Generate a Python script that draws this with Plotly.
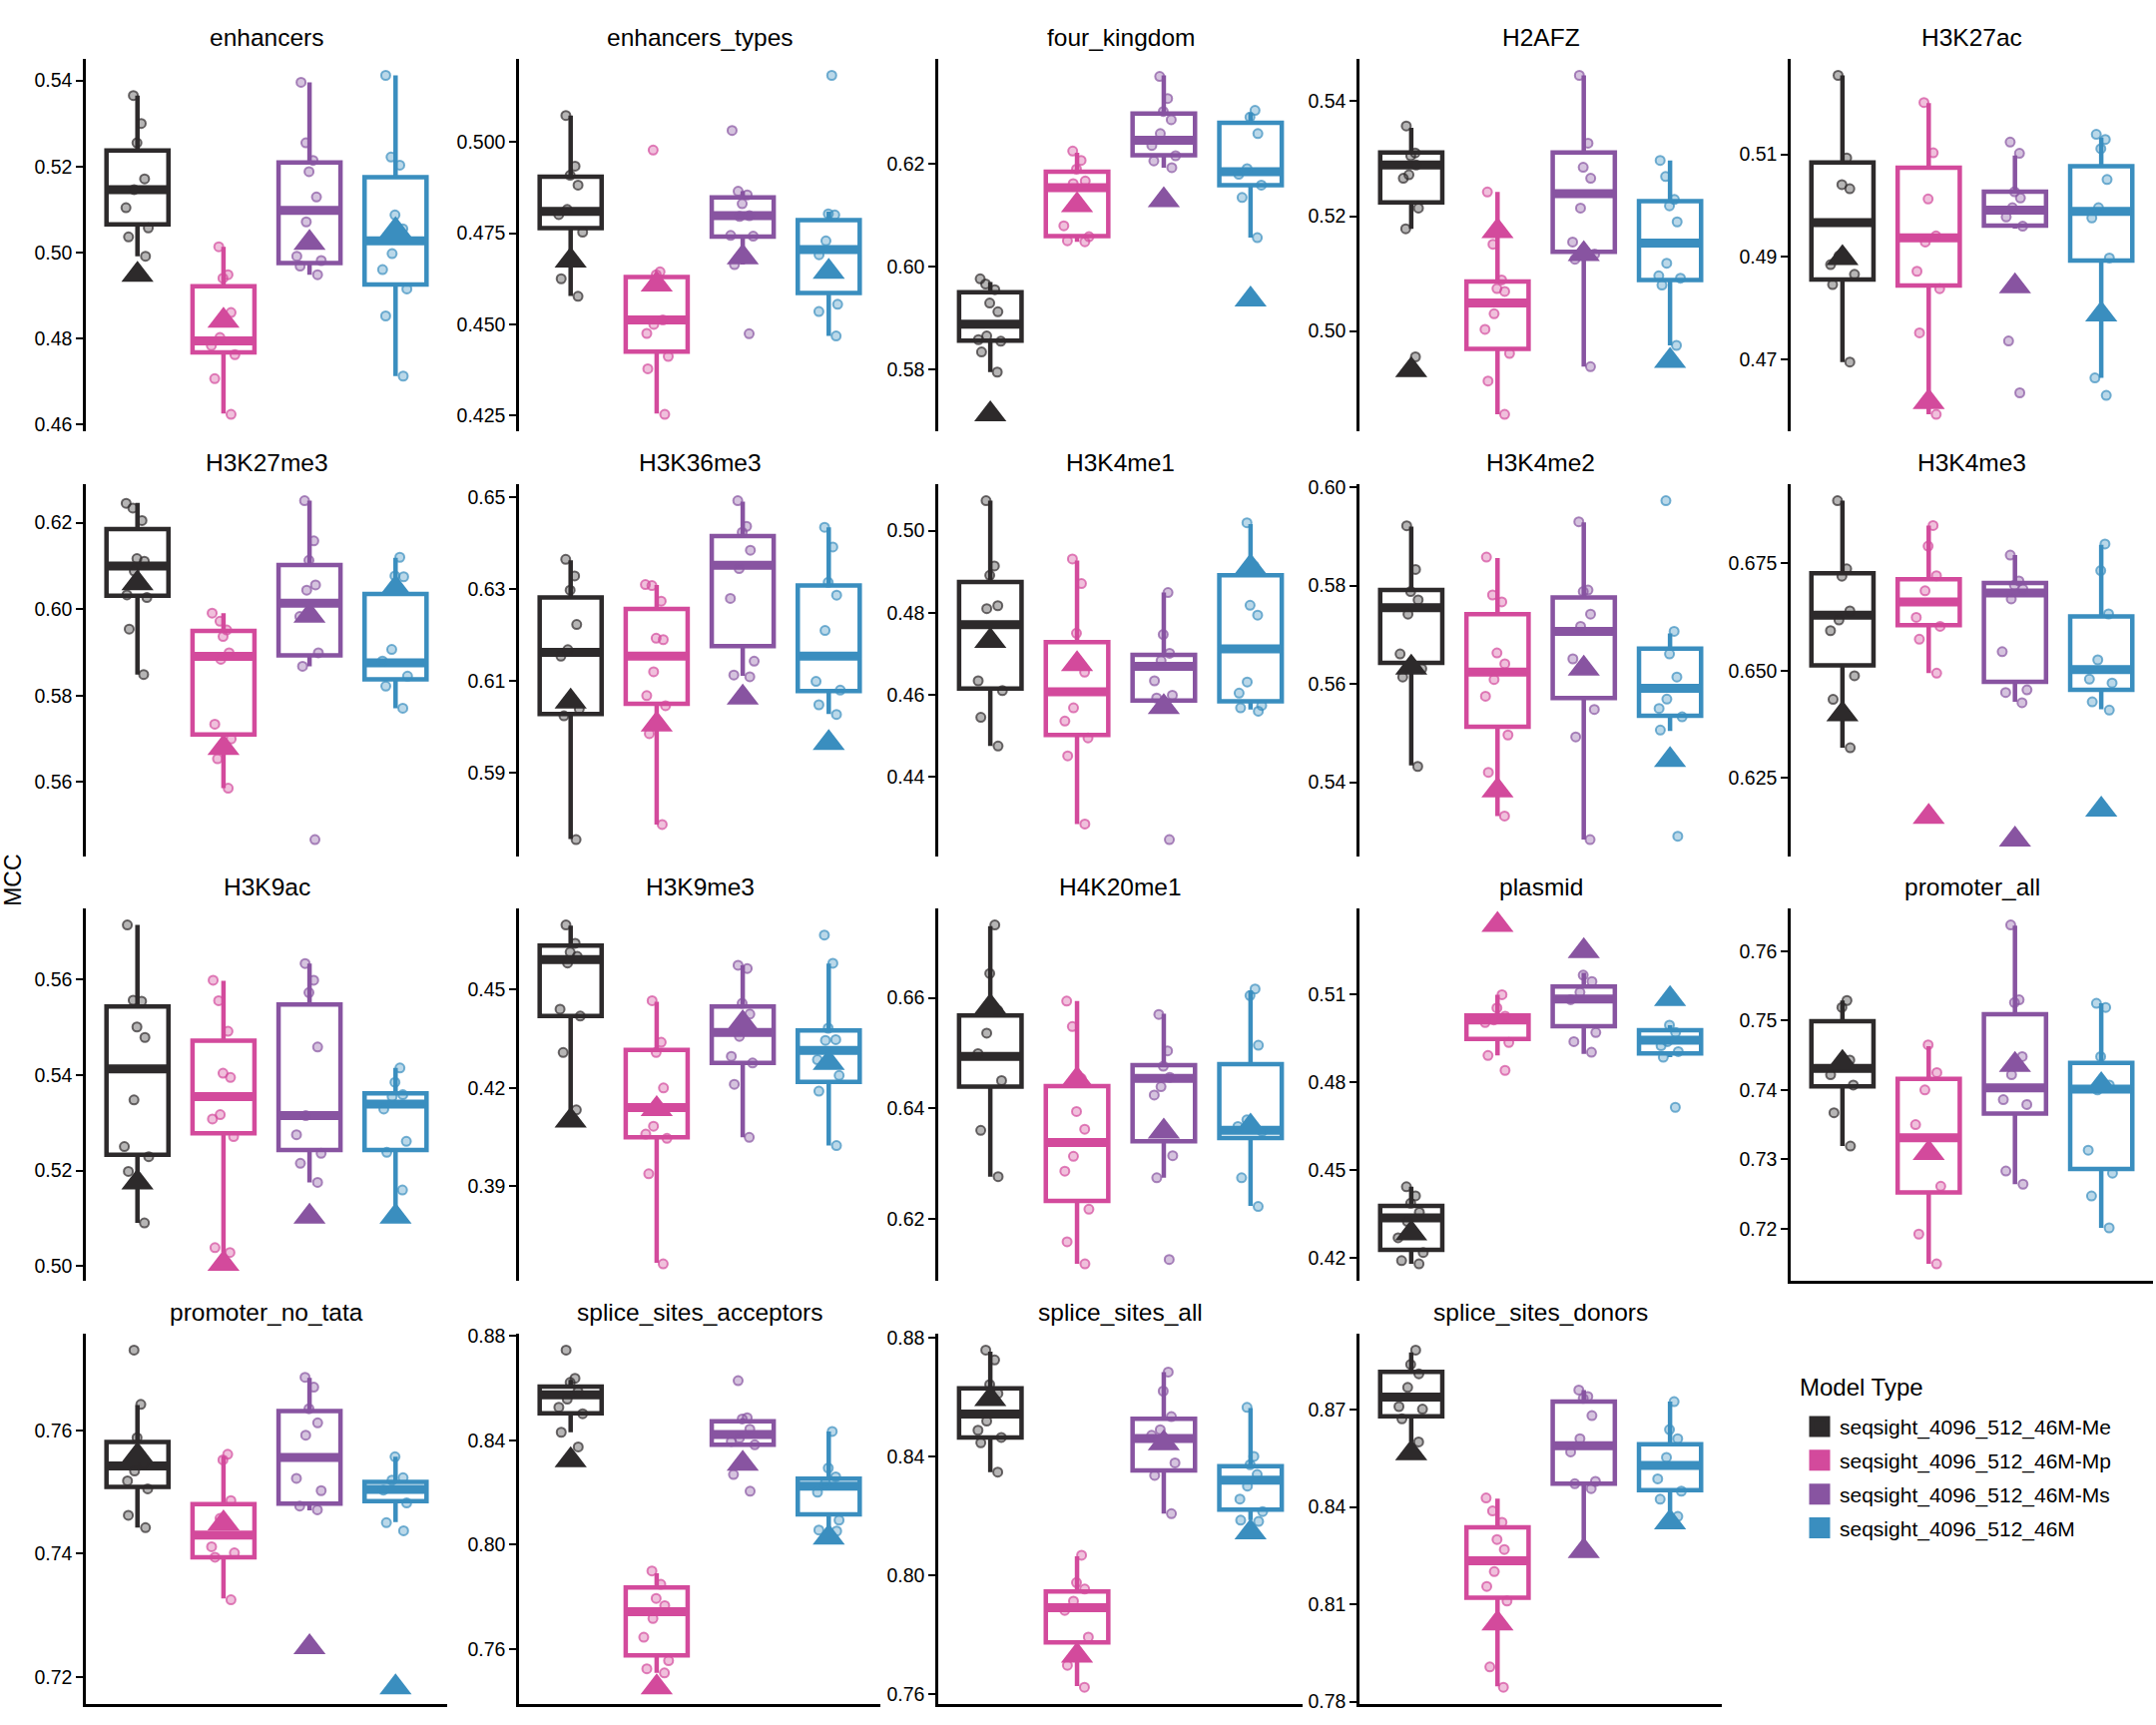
import plotly.graph_objects as go

PANELS = ["enhancers", "enhancers_types", "four_kingdom", "H2AFZ", "H3K27ac",
          "H3K27me3", "H3K36me3", "H3K4me1", "H3K4me2", "H3K4me3",
          "H3K9ac", "H3K9me3", "H4K20me1", "plasmid", "promoter_all",
          "promoter_no_tata", "splice_sites_acceptors", "splice_sites_all", "splice_sites_donors"]
MODELS = ["seqsight_4096_512_46M-Me", "seqsight_4096_512_46M-Mp",
          "seqsight_4096_512_46M-Ms", "seqsight_4096_512_46M"]
COLORS = ["#2D2A2B", "#D34A9C", "#8854A1", "#3A8EBF"]

# box statistics per panel, order [Me, Mp, Ms, M]
Q1 = [[0.5065, 0.4767, 0.4975, 0.4925], [0.4764, 0.4425, 0.4741, 0.4586], [0.5856, 0.6059, 0.6216, 0.6158],
      [0.5224, 0.4969, 0.5138, 0.5089], [0.4856, 0.4844, 0.4961, 0.4893], [0.6031, 0.571, 0.5893, 0.5838],
      [0.6028, 0.605, 0.6176, 0.6078], [0.4615, 0.4502, 0.4586, 0.4584], [0.5643, 0.5513, 0.5571, 0.5535],
      [0.6512, 0.6606, 0.6474, 0.6455], [0.5233, 0.5278, 0.5243, 0.5243], [0.4419, 0.4049, 0.4276, 0.4218],
      [0.6439, 0.6232, 0.634, 0.6346], [0.4228, 0.4947, 0.4991, 0.4898], [0.7405, 0.7252, 0.7366, 0.7286],
      [0.7508, 0.7394, 0.7481, 0.7485], [0.8504, 0.7575, 0.8383, 0.8116], [0.8465, 0.7774, 0.8354, 0.8222],
      [0.868, 0.812, 0.8472, 0.8452]]
MEDIAN = [[0.5146, 0.4794, 0.5098, 0.5027], [0.481, 0.4512, 0.4798, 0.4705], [0.5888, 0.6153, 0.6245, 0.6184],
          [0.5289, 0.5049, 0.5239, 0.5153], [0.4967, 0.4937, 0.4991, 0.4989], [0.61, 0.5891, 0.6014, 0.5876],
          [0.6162, 0.6154, 0.6352, 0.6154], [0.4771, 0.4607, 0.4669, 0.4712], [0.5755, 0.5624, 0.5707, 0.5591],
          [0.6629, 0.666, 0.6681, 0.6502], [0.5413, 0.5355, 0.5315, 0.5339], [0.4591, 0.414, 0.4369, 0.4314],
          [0.6494, 0.6338, 0.6454, 0.636], [0.4337, 0.5012, 0.5083, 0.4943], [0.7431, 0.7331, 0.7403, 0.7401],
          [0.7542, 0.743, 0.7556, 0.7504], [0.8575, 0.7743, 0.8422, 0.8224], [0.8544, 0.7891, 0.8461, 0.8321],
          [0.8739, 0.8234, 0.8589, 0.8528]]
Q3 = [[0.5237, 0.4921, 0.5209, 0.5175], [0.4905, 0.463, 0.4848, 0.4786], [0.595, 0.6184, 0.6297, 0.6279],
      [0.5311, 0.5086, 0.5311, 0.5226], [0.5084, 0.5074, 0.5027, 0.5077], [0.6185, 0.595, 0.6102, 0.6035],
      [0.6282, 0.6257, 0.6416, 0.6308], [0.4875, 0.4728, 0.4697, 0.4891], [0.5791, 0.5742, 0.5776, 0.5672],
      [0.6727, 0.6713, 0.6704, 0.6626], [0.5544, 0.5472, 0.5548, 0.5362], [0.4634, 0.4316, 0.4448, 0.4375],
      [0.6568, 0.644, 0.6478, 0.648], [0.4378, 0.5027, 0.5126, 0.4977], [0.7499, 0.7416, 0.7509, 0.7439],
      [0.7581, 0.748, 0.7631, 0.7516], [0.8606, 0.7836, 0.8473, 0.8253], [0.863, 0.7946, 0.8528, 0.8368],
      [0.8817, 0.8337, 0.8725, 0.8594]]
LOWER = [[0.4991, 0.4625, 0.4948, 0.4712], [0.4578, 0.4255, 0.4664, 0.4468], [0.5795, 0.6048, 0.6192, 0.6056],
         [0.5178, 0.4855, 0.4938, 0.4975], [0.4695, 0.4593, 0.4955, 0.4664], [0.5849, 0.5586, 0.5868, 0.5771],
         [0.5755, 0.5787, 0.6111, 0.6028], [0.4475, 0.4285, 0.4586, 0.4564], [0.5434, 0.5331, 0.5283, 0.5504],
         [0.632, 0.6494, 0.6427, 0.641], [0.509, 0.5028, 0.5175, 0.5105], [0.4133, 0.3666, 0.4049, 0.4024],
         [0.6276, 0.6118, 0.6274, 0.6223], [0.418, 0.4891, 0.4896, 0.4885], [0.7319, 0.7149, 0.7264, 0.7201],
         [0.7442, 0.7327, 0.747, 0.7451], [0.8431, 0.7508, 0.8383, 0.8059], [0.8348, 0.7627, 0.8208, 0.8186],
         [0.8601, 0.7847, 0.826, 0.8371]]
UPPER = [[0.5365, 0.5013, 0.5396, 0.5412], [0.5073, 0.4641, 0.4865, 0.4809], [0.597, 0.6221, 0.6371, 0.6299],
         [0.5354, 0.5242, 0.5445, 0.5297], [0.5254, 0.52, 0.5098, 0.5133], [0.6246, 0.5991, 0.6251, 0.6119],
         [0.6363, 0.6309, 0.6491, 0.6435], [0.5073, 0.4927, 0.4849, 0.5016], [0.592, 0.5856, 0.5929, 0.5703],
         [0.6896, 0.6838, 0.6769, 0.6793], [0.5715, 0.5598, 0.5634, 0.5415], [0.4695, 0.4463, 0.4574, 0.4579],
         [0.673, 0.6594, 0.6571, 0.6613], [0.4443, 0.5098, 0.5173, 0.4994], [0.7529, 0.7463, 0.7637, 0.7525],
         [0.7641, 0.7558, 0.7685, 0.7557], [0.8632, 0.789, 0.8485, 0.8434], [0.8754, 0.8064, 0.8685, 0.8564],
         [0.8877, 0.8426, 0.8761, 0.8725]]
# triangle marker value per panel
TRIANGLE = [[0.4948, 0.4841, 0.5022, 0.5052], [0.4675, 0.4609, 0.4684, 0.4644], [0.5713, 0.6119, 0.6129, 0.5936],
            [0.4932, 0.5174, 0.5134, 0.4948], [0.4898, 0.4617, 0.4843, 0.4788], [0.606, 0.5679, 0.5985, 0.6048],
            [0.6055, 0.6005, 0.6064, 0.5965], [0.4731, 0.4675, 0.457, 0.4911], [0.5633, 0.5383, 0.5631, 0.5445],
            [0.6398, 0.6159, 0.6106, 0.6176], [0.5175, 0.5004, 0.5103, 0.5103], [0.41, 0.4135, 0.4397, 0.4276],
            [0.6584, 0.6452, 0.6358, 0.6367], [0.4284, 0.5336, 0.5247, 0.5083], [0.7439, 0.7309, 0.7436, 0.7407],
            [0.7559, 0.7449, 0.7248, 0.7183], [0.8324, 0.7453, 0.831, 0.8027], [0.8594, 0.773, 0.8445, 0.8145],
            [0.8566, 0.8041, 0.8264, 0.8353]]
# individual runs per panel, [Me, Mp, Ms, M]
POINTS = [
    [[0.5365, 0.530, 0.5255, 0.5171, 0.5146, 0.5104, 0.5057, 0.5036, 0.4991],
     [0.5013, 0.4948, 0.4940, 0.486, 0.4802, 0.4783, 0.4762, 0.4706, 0.4623],
     [0.5396, 0.5255, 0.5214, 0.5188, 0.5129, 0.5071, 0.4991, 0.4981, 0.4968, 0.4948],
     [0.5412, 0.5222, 0.5203, 0.5087, 0.5055, 0.4997, 0.4960, 0.4915, 0.4852, 0.4712]],
    [[0.5073, 0.4934, 0.4909, 0.4882, 0.4815, 0.4801, 0.4753, 0.4625, 0.4577],
     [0.4978, 0.4644, 0.4636, 0.4512, 0.45, 0.4475, 0.4412, 0.4378, 0.4253],
     [0.5032, 0.4865, 0.4855, 0.4831, 0.4798, 0.4796, 0.4744, 0.4742, 0.4664, 0.4474],
     [0.5183, 0.4803, 0.480, 0.4729, 0.4691, 0.4555, 0.4535, 0.4468]],
    [[0.5976, 0.5966, 0.5955, 0.5929, 0.5912, 0.5865, 0.5858, 0.5855, 0.5834, 0.5795],
     [0.6224, 0.6206, 0.6189, 0.6166, 0.6161, 0.6079, 0.6058, 0.6050, 0.6048],
     [0.6369, 0.6326, 0.6301, 0.6285, 0.6258, 0.6235, 0.6215, 0.6205, 0.6192],
     [0.6303, 0.6290, 0.6258, 0.6190, 0.6179, 0.6158, 0.6134, 0.6056]],
    [[0.5357, 0.5310, 0.5305, 0.5289, 0.5272, 0.5266, 0.5214, 0.5178, 0.4955],
     [0.5242, 0.5151, 0.5089, 0.5074, 0.5069, 0.503, 0.5003, 0.4961, 0.4913, 0.4855],
     [0.5445, 0.5327, 0.5285, 0.5266, 0.5214, 0.5155, 0.5134, 0.5125, 0.4938],
     [0.5297, 0.5269, 0.5229, 0.5218, 0.5190, 0.5118, 0.5096, 0.5092, 0.508, 0.4975]],
    [[0.5254, 0.5093, 0.5041, 0.5033, 0.4902, 0.4885, 0.4866, 0.4846, 0.4695],
     [0.5201, 0.5103, 0.5013, 0.4941, 0.4929, 0.4872, 0.4838, 0.4752, 0.4593],
     [0.5124, 0.5102, 0.5027, 0.5015, 0.4996, 0.4978, 0.4960, 0.4736, 0.4635],
     [0.5139, 0.5129, 0.5111, 0.5051, 0.4996, 0.4976, 0.4898, 0.4664, 0.463]],
    [[0.6245, 0.6234, 0.6205, 0.6117, 0.6111, 0.6088, 0.6033, 0.6027, 0.5954, 0.5849],
     [0.5991, 0.5972, 0.5952, 0.5937, 0.5899, 0.5884, 0.5734, 0.57, 0.5654, 0.5586],
     [0.6251, 0.6158, 0.6113, 0.6056, 0.6044, 0.5983, 0.5899, 0.5868, 0.5467],
     [0.6120, 0.6077, 0.6075, 0.5907, 0.588, 0.5845, 0.5822, 0.5771]],
    [[0.6365, 0.6329, 0.6298, 0.6223, 0.6168, 0.6154, 0.6039, 0.6024, 0.5754],
     [0.6310, 0.6308, 0.6274, 0.619, 0.6193, 0.612, 0.6068, 0.6046, 0.5985, 0.5787],
     [0.6493, 0.6437, 0.6424, 0.6385, 0.6345, 0.628, 0.6143, 0.6113, 0.6109],
     [0.6435, 0.6392, 0.6315, 0.6287, 0.621, 0.6099, 0.608, 0.6048, 0.6027]],
    [[0.5073, 0.4914, 0.4891, 0.4817, 0.4810, 0.4634, 0.461, 0.4545, 0.4475],
     [0.4931, 0.4871, 0.475, 0.4655, 0.4568, 0.4536, 0.4495, 0.4451, 0.4285],
     [0.4849, 0.4747, 0.4701, 0.4683, 0.4634, 0.4599, 0.4592, 0.4247],
     [0.5019, 0.4914, 0.4818, 0.4794, 0.4631, 0.4604, 0.4574, 0.4568, 0.456]],
    [[0.5922, 0.5833, 0.5788, 0.5771, 0.5742, 0.5661, 0.5631, 0.5614, 0.5432],
     [0.5858, 0.5781, 0.5767, 0.5663, 0.5641, 0.5609, 0.5575, 0.5496, 0.542, 0.5331],
     [0.593, 0.5791, 0.5788, 0.5742, 0.5717, 0.5651, 0.5548, 0.5492, 0.5283],
     [0.5973, 0.5707, 0.5661, 0.5614, 0.5569, 0.555, 0.5533, 0.5506, 0.529]],
    [[0.6896, 0.6737, 0.672, 0.6639, 0.6618, 0.6593, 0.6488, 0.6433, 0.632],
     [0.6838, 0.679, 0.6721, 0.6686, 0.6624, 0.6603, 0.6573, 0.6494],
     [0.6769, 0.6709, 0.6699, 0.669, 0.6667, 0.6544, 0.6455, 0.6449, 0.6425],
     [0.6795, 0.6733, 0.6632, 0.6525, 0.648, 0.6471, 0.6427, 0.6408]],
    [[0.5715, 0.5557, 0.5555, 0.5501, 0.5479, 0.5348, 0.525, 0.5229, 0.5198, 0.509],
     [0.5599, 0.5556, 0.5492, 0.5404, 0.5395, 0.5317, 0.5308, 0.5271, 0.5038, 0.5028],
     [0.5634, 0.5599, 0.5573, 0.5459, 0.5315, 0.5275, 0.5236, 0.5215, 0.5175],
     [0.5415, 0.5385, 0.5359, 0.5355, 0.5329, 0.5261, 0.5238, 0.5159]],
    [[0.4697, 0.4641, 0.4614, 0.4601, 0.4581, 0.444, 0.4419, 0.4308, 0.4133],
     [0.4466, 0.4339, 0.4308, 0.42, 0.4083, 0.4059, 0.4046, 0.3938, 0.3663],
     [0.4574, 0.4564, 0.4458, 0.4425, 0.4357, 0.4296, 0.4276, 0.4211, 0.4049],
     [0.4666, 0.458, 0.4382, 0.4347, 0.4345, 0.4286, 0.4238, 0.4190, 0.4024]],
    [[0.6732, 0.6644, 0.6577, 0.6536, 0.6499, 0.645, 0.636, 0.6276],
     [0.6594, 0.6548, 0.6454, 0.6394, 0.6362, 0.6313, 0.6286, 0.6217, 0.6158, 0.6118],
     [0.657, 0.6504, 0.6476, 0.6456, 0.6439, 0.6424, 0.6314, 0.6274, 0.6126],
     [0.6616, 0.6604, 0.6514, 0.6379, 0.6367, 0.6358, 0.6274, 0.6222]],
    [[0.4443, 0.4412, 0.4387, 0.4356, 0.4325, 0.4269, 0.4219, 0.4191, 0.418],
     [0.5098, 0.5053, 0.5025, 0.5012, 0.5003, 0.4935, 0.4891, 0.484],
     [0.5165, 0.5143, 0.5106, 0.5081, 0.4969, 0.4938, 0.4902],
     [0.4994, 0.4969, 0.4938, 0.4924, 0.4904, 0.4885, 0.4714]],
    [[0.7529, 0.7519, 0.7443, 0.7436, 0.7422, 0.7407, 0.7367, 0.7319],
     [0.7465, 0.7425, 0.74, 0.735, 0.7261, 0.7192, 0.7149],
     [0.7638, 0.753, 0.7526, 0.7448, 0.7422, 0.7386, 0.7379, 0.7283, 0.7264],
     [0.7525, 0.7519, 0.7448, 0.7407, 0.74, 0.7313, 0.728, 0.7247, 0.7201]],
    [[0.773, 0.7642, 0.7588, 0.7546, 0.7534, 0.7518, 0.7505, 0.7462, 0.7442],
     [0.7561, 0.7552, 0.7486, 0.7457, 0.7411, 0.7401, 0.7394, 0.7325],
     [0.7686, 0.767, 0.7635, 0.7612, 0.7592, 0.7522, 0.7502, 0.7477, 0.7471],
     [0.7557, 0.7523, 0.7519, 0.7503, 0.7482, 0.745, 0.7437]],
    [[0.8746, 0.8638, 0.8622, 0.8587, 0.8558, 0.8527, 0.8502, 0.8431, 0.8375],
     [0.7899, 0.7848, 0.7794, 0.7766, 0.7717, 0.7645, 0.7555, 0.7524, 0.7508],
     [0.8629, 0.8482, 0.8487, 0.8443, 0.8409, 0.8396, 0.8383, 0.8269, 0.8205],
     [0.8434, 0.8294, 0.826, 0.8237, 0.8201, 0.8094, 0.8056, 0.8052]],
    [[0.8759, 0.8726, 0.8643, 0.8613, 0.852, 0.8489, 0.8465, 0.8447, 0.8348],
     [0.8068, 0.7976, 0.7954, 0.7913, 0.7882, 0.7792, 0.7697, 0.7623],
     [0.8685, 0.8621, 0.8535, 0.8491, 0.8472, 0.8379, 0.8337, 0.8208],
     [0.8566, 0.8401, 0.8373, 0.834, 0.8301, 0.8257, 0.8215, 0.8186, 0.8182]],
    [[0.8884, 0.884, 0.8811, 0.8769, 0.871, 0.8702, 0.8672, 0.8601],
     [0.8428, 0.8388, 0.8353, 0.83, 0.8269, 0.8201, 0.8155, 0.811, 0.7907, 0.7844],
     [0.8761, 0.8741, 0.8735, 0.8682, 0.8611, 0.857, 0.8479, 0.8472, 0.8457],
     [0.8725, 0.8639, 0.8611, 0.8553, 0.8487, 0.8449, 0.8424, 0.8371]],
]
TICK_LABELS = [
    ["0.46", "0.48", "0.50", "0.52", "0.54"], ["0.425", "0.450", "0.475", "0.500"], ["0.58", "0.60", "0.62"],
    ["0.50", "0.52", "0.54"], ["0.47", "0.49", "0.51"], ["0.56", "0.58", "0.60", "0.62"],
    ["0.59", "0.61", "0.63", "0.65"], ["0.44", "0.46", "0.48", "0.50"], ["0.54", "0.56", "0.58", "0.60"],
    ["0.625", "0.650", "0.675"], ["0.50", "0.52", "0.54", "0.56"], ["0.39", "0.42", "0.45"],
    ["0.62", "0.64", "0.66"], ["0.42", "0.45", "0.48", "0.51"], ["0.72", "0.73", "0.74", "0.75", "0.76"],
    ["0.72", "0.74", "0.76"], ["0.76", "0.80", "0.84", "0.88"], ["0.76", "0.80", "0.84", "0.88"],
    ["0.78", "0.81", "0.84", "0.87"],
]

W, H = 2160, 1728
COL_X = [(86, 448), (520, 882), (940, 1305), (1362, 1725), (1794, 2157)]
ROW_Y = [(51, 428), (481, 858), (910, 1287), (1340, 1715)]
BOX_W = 0.72
FONT = "Liberation Sans, Arial, sans-serif"


def rgba(hexc, a):
    h = hexc.lstrip("#")
    return "rgba(%d,%d,%d,%s)" % (int(h[0:2], 16), int(h[2:4], 16), int(h[4:6], 16), a)


fig = go.Figure()
layout = {}
annotations = []
n_panels = len(PANELS)
bottom_panels = set(range(n_panels - 4, n_panels)) | {14}

for k, name in enumerate(PANELS):
    r, c = divmod(k, 5)
    sfx = "" if k == 0 else str(k + 1)
    xa, ya = "x" + sfx, "y" + sfx
    x0, x1 = COL_X[c]
    y0, y1 = ROW_Y[r]
    xdom = [x0 / W, x1 / W]
    ydom = [1 - y1 / H, 1 - y0 / H]
    allv = []
    for m in range(4):
        allv += POINTS[k][m] + [TRIANGLE[k][m], LOWER[k][m], UPPER[k][m]]
    lo, hi = min(allv), max(allv)
    pad = 0.05 * (hi - lo)
    layout["xaxis" + sfx] = dict(domain=xdom, range=[-0.6, 3.6], anchor=ya, showticklabels=False,
                                 ticks="", showgrid=False, zeroline=False,
                                 showline=(k in bottom_panels), linecolor="black", linewidth=3)
    layout["yaxis" + sfx] = dict(domain=ydom, range=[lo - pad, hi + pad], anchor=xa,
                                 tickvals=[float(t) for t in TICK_LABELS[k]], ticktext=TICK_LABELS[k],
                                 ticks="outside", ticklen=7, tickwidth=2, tickcolor="black",
                                 showline=True, linecolor="black", linewidth=2.5,
                                 showgrid=False, zeroline=False,
                                 tickfont=dict(size=19.5, color="black", family=FONT))
    annotations.append(dict(text=name, x=(xdom[0] + xdom[1]) / 2, y=ydom[1] + 21 / H,
                            xref="paper", yref="paper", showarrow=False,
                            xanchor="center", yanchor="middle",
                            font=dict(size=24.5, color="black", family=FONT)))
    # boxes
    for m in range(4):
        fig.add_trace(go.Box(x=[m], q1=[Q1[k][m]], median=[MEDIAN[k][m]], q3=[Q3[k][m]],
                             lowerfence=[LOWER[k][m]], upperfence=[UPPER[k][m]],
                             width=BOX_W, whiskerwidth=0, boxpoints=False,
                             fillcolor="white", line=dict(color=COLORS[m], width=4.5),
                             xaxis=xa, yaxis=ya, showlegend=False, hoverinfo="skip"))
    # thick median bars
    for m in range(4):
        md = MEDIAN[k][m]
        fig.add_trace(go.Box(x=[m], q1=[md], median=[md], q3=[md], lowerfence=[md], upperfence=[md],
                             width=BOX_W - 0.02, whiskerwidth=0, boxpoints=False,
                             fillcolor=COLORS[m], line=dict(color=COLORS[m], width=9),
                             xaxis=xa, yaxis=ya, showlegend=False, hoverinfo="skip"))
    # jittered run points
    for m in range(4):
        pts = POINTS[k][m]
        fig.add_trace(go.Box(x=[m] * len(pts), y=pts, boxpoints="all", jitter=0.5, pointpos=0,
                             width=BOX_W, fillcolor="rgba(0,0,0,0)",
                             line=dict(color="rgba(0,0,0,0)", width=0),
                             marker=dict(size=9, color=rgba(COLORS[m], 0.35),
                                         line=dict(color=rgba(COLORS[m], 0.7), width=2)),
                             xaxis=xa, yaxis=ya, showlegend=False, hoverinfo="y"))
    # triangles
    fig.add_trace(go.Scatter(x=list(range(4)), y=TRIANGLE[k], mode="markers",
                             marker=dict(symbol="triangle-up", size=28, color=COLORS),
                             xaxis=xa, yaxis=ya, showlegend=False, hoverinfo="y"))

# legend entries
for m in range(4):
    fig.add_trace(go.Scatter(x=[None], y=[None], mode="markers", name=MODELS[m],
                             legendgroup=MODELS[m],
                             marker=dict(symbol="square", size=16, color=COLORS[m],
                                         line=dict(color=COLORS[m], width=5)),
                             xaxis="x", yaxis="y", showlegend=True))

annotations.append(dict(text="MCC", x=13 / W, y=1 - 882 / H, xref="paper", yref="paper",
                        showarrow=False, textangle=-90, xanchor="center", yanchor="middle",
                        font=dict(size=23, color="black", family=FONT)))
annotations.append(dict(text="Model Type", x=1801 / W, y=1 - 1394 / H, xref="paper", yref="paper",
                        showarrow=False, xanchor="left", yanchor="middle",
                        font=dict(size=24, color="black", family=FONT)))

fig.update_layout(**layout)
fig.update_layout(
    width=W, height=H, margin=dict(l=0, r=0, t=0, b=0),
    paper_bgcolor="white", plot_bgcolor="white",
    font=dict(family=FONT, color="black"),
    boxmode="overlay",
    annotations=annotations,
    legend=dict(x=1803 / W, y=1 - 1414 / H, xanchor="left", yanchor="top",
                font=dict(size=21, family=FONT, color="black"),
                bgcolor="rgba(0,0,0,0)", tracegroupgap=3.5, itemsizing="trace",
                traceorder="grouped"),
)
fig.write_html("out.html")
